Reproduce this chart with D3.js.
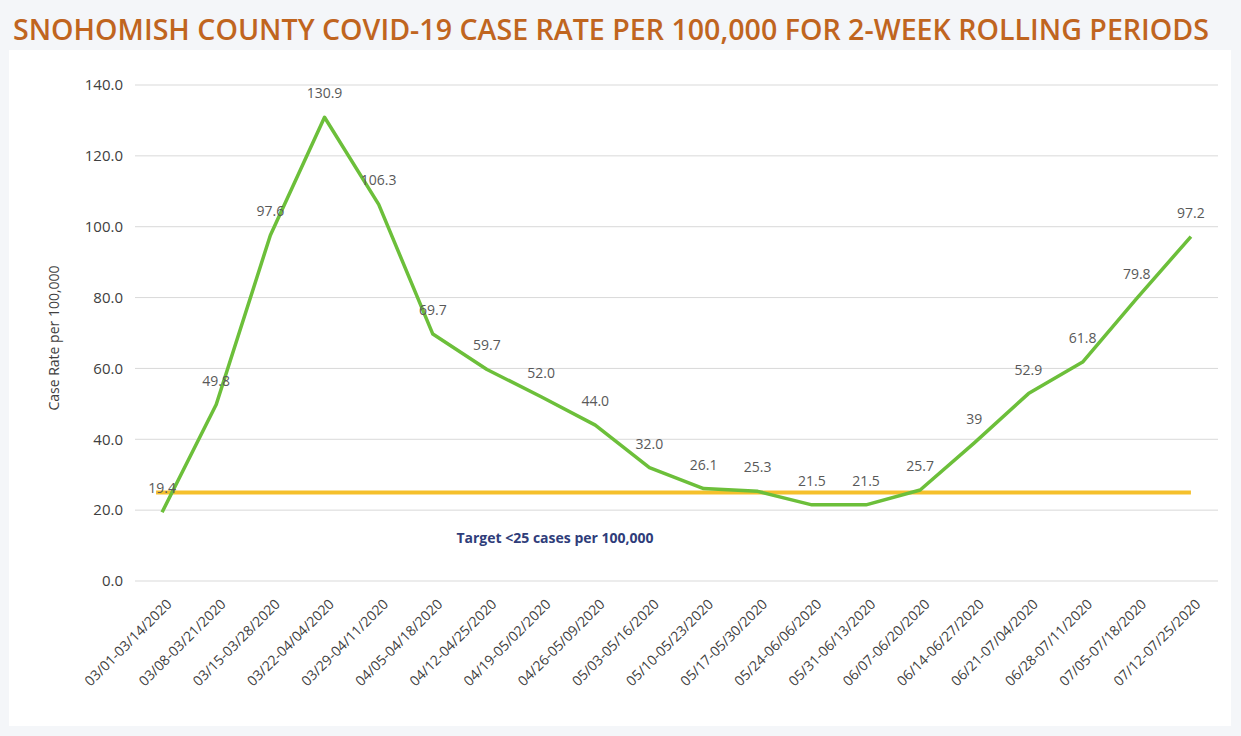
<!DOCTYPE html>
<html>
<head>
<meta charset="utf-8">
<script src="https://cdn.jsdelivr.net/npm/d3@7"></script>
<style>
  body { margin: 0; background: #f4f6f9; }
  svg { display: block; }
  text { font-family: "Open Sans", "Liberation Sans", sans-serif; }
</style>
</head>
<body>
<div id="chart"></div>
<script>
var periods = ["03/01-03/14/2020", "03/08-03/21/2020", "03/15-03/28/2020", "03/22-04/04/2020",
  "03/29-04/11/2020", "04/05-04/18/2020", "04/12-04/25/2020", "04/19-05/02/2020",
  "04/26-05/09/2020", "05/03-05/16/2020", "05/10-05/23/2020", "05/17-05/30/2020",
  "05/24-06/06/2020", "05/31-06/13/2020", "06/07-06/20/2020", "06/14-06/27/2020",
  "06/21-07/04/2020", "06/28-07/11/2020", "07/05-07/18/2020", "07/12-07/25/2020"];
var caseRate = [19.4, 49.8, 97.6, 130.9, 106.3, 69.7, 59.7, 52.0, 44.0, 32.0,
  26.1, 25.3, 21.5, 21.5, 25.7, 39, 52.9, 61.8, 79.8, 97.2];
var rateLabels = ["19.4", "49.8", "97.6", "130.9", "106.3", "69.7", "59.7", "52.0", "44.0", "32.0",
  "26.1", "25.3", "21.5", "21.5", "25.7", "39", "52.9", "61.8", "79.8", "97.2"];
var target = 25;
var yTicks = [0, 20, 40, 60, 80, 100, 120, 140];

var width = 1241, height = 736;

var svg = d3.select("#chart").append("svg")
    .attr("width", width)
    .attr("height", height);

// white panel behind the plot
svg.append("rect")
    .attr("x", 9).attr("y", 50)
    .attr("width", 1222).attr("height", 676)
    .attr("fill", "#ffffff");

svg.append("text")
    .attr("x", 13).attr("y", 40)
    .attr("fill", "#c0651f")
    .style("font-size", "28px")
    .style("font-weight", 600)
    .attr("textLength", 1196)
    .attr("lengthAdjust", "spacingAndGlyphs")
    .text("SNOHOMISH COUNTY COVID-19 CASE RATE PER 100,000 FOR 2-WEEK ROLLING PERIODS");

var x = d3.scalePoint()
    .domain(periods)
    .range([135, 1218])
    .padding(0.5);

var y = d3.scaleLinear()
    .domain([0, 140])
    .range([581, 85]);

// gridlines
svg.append("g")
    .selectAll("line")
    .data(yTicks)
    .enter().append("line")
    .attr("x1", 135).attr("x2", 1218)
    .attr("y1", function(d) { return y(d); })
    .attr("y2", function(d) { return y(d); })
    .attr("stroke", "#d9d9d9")
    .attr("stroke-width", 1);

var yAxis = svg.append("g")
    .attr("transform", "translate(126,0)")
    .call(d3.axisLeft(y).tickValues(yTicks).tickSize(0).tickFormat(d3.format(".1f")));
yAxis.select(".domain").remove();
yAxis.selectAll("text")
    .attr("fill", "#404040")
    .style("font-size", "15px");

svg.append("text")
    .attr("transform", "translate(59,338) rotate(-90)")
    .attr("text-anchor", "middle")
    .attr("fill", "#404040")
    .style("font-size", "14px")
    .text("Case Rate per 100,000");

var xAxis = svg.append("g")
    .attr("transform", "translate(0,581)")
    .call(d3.axisBottom(x).tickSize(0));
xAxis.select(".domain").remove();
xAxis.selectAll("text")
    .attr("fill", "#404040")
    .style("font-size", "14px")
    .attr("text-anchor", "end")
    .attr("dy", null)
    .attr("y", 0)
    .attr("transform", "translate(10,24) rotate(-45)");

// target line
svg.append("line")
    .attr("x1", x(periods[0]) - 6)
    .attr("x2", x(periods[periods.length - 1]))
    .attr("y1", y(target)).attr("y2", y(target))
    .attr("stroke", "#f5c02c")
    .attr("stroke-width", 4);

svg.append("text")
    .attr("x", 555).attr("y", 543)
    .attr("text-anchor", "middle")
    .attr("fill", "#2f3d7a")
    .style("font-size", "14px")
    .style("font-weight", "bold")
    .text("Target <25 cases per 100,000");

var line = d3.line()
    .x(function(d, i) { return x(periods[i]); })
    .y(function(d) { return y(d); });

svg.append("path")
    .datum(caseRate)
    .attr("d", line)
    .attr("fill", "none")
    .attr("stroke", "#6cbf3a")
    .attr("stroke-width", 3.5)
    .attr("stroke-linejoin", "round");

svg.append("g")
    .selectAll("text")
    .data(caseRate)
    .enter().append("text")
    .attr("x", function(d, i) { return x(periods[i]); })
    .attr("y", function(d) { return y(d) - 19; })
    .attr("text-anchor", "middle")
    .attr("fill", "#595959")
    .style("font-size", "14px")
    .text(function(d, i) { return rateLabels[i]; });
</script>
</body>
</html>
